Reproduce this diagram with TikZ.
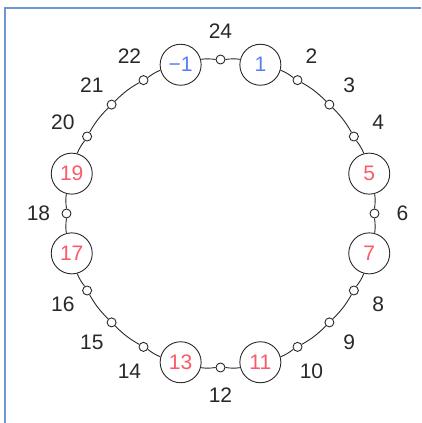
\documentclass[tikz,border=0pt]{standalone}
\usepackage{fontspec}
\setmainfont{Liberation Sans}
\usepackage{xcolor}
\usepackage{tikz}
\definecolor{framecol}{RGB}{110,150,210}
\definecolor{redtxt}{RGB}{250,90,105}
\definecolor{bluetxt}{RGB}{90,125,250}
\definecolor{inkcol}{RGB}{40,40,40}
\tikzset{
  bigres/.style={circle, draw=inkcol, fill=white, minimum size=41pt, inner sep=0pt, font=\fontsize{21}{21}\selectfont},
  smallres/.style={circle, draw=inkcol, fill=white, minimum size=9pt, inner sep=0pt},
  reslabel/.style={text=inkcol, font=\fontsize{21}{21}\selectfont},
}

\begin{document}
\begin{tikzpicture}[x=1pt, y=1pt, line width=0.9pt]
\useasboundingbox (-220.5,-209.5) rectangle (200.5,213.5);
\draw[framecol, line width=2pt] (-215,-209.5) -- (-215,205.5) -- (200.5,205.5);

% marked positions
\foreach \k/\txt/\col in {1/1/bluetxt, 5/5/redtxt, 7/7/redtxt, 11/11/redtxt, 13/13/redtxt, 17/17/redtxt, 19/19/redtxt, 23/−1/bluetxt}
  \node[bigres, text=\col] (p\k) at ({90-15*\k}:154) {\txt};

% the other positions
\foreach \k in {2,3,4,6,8,9,10,12,14,15,16,18,20,21,22,24} {
  \node[smallres] (p\k) at ({90-15*\k}:154) {};
  \node[reslabel] (l\k) at ({90-15*\k}:182) {\k};
}

% ring
\foreach \k [evaluate=\k as \j using {int(mod(\k,24)+1)}] in {1,...,24}
  \draw[inkcol] (p\k) to[bend left=7.5] (p\j);
\end{tikzpicture}
\end{document}
